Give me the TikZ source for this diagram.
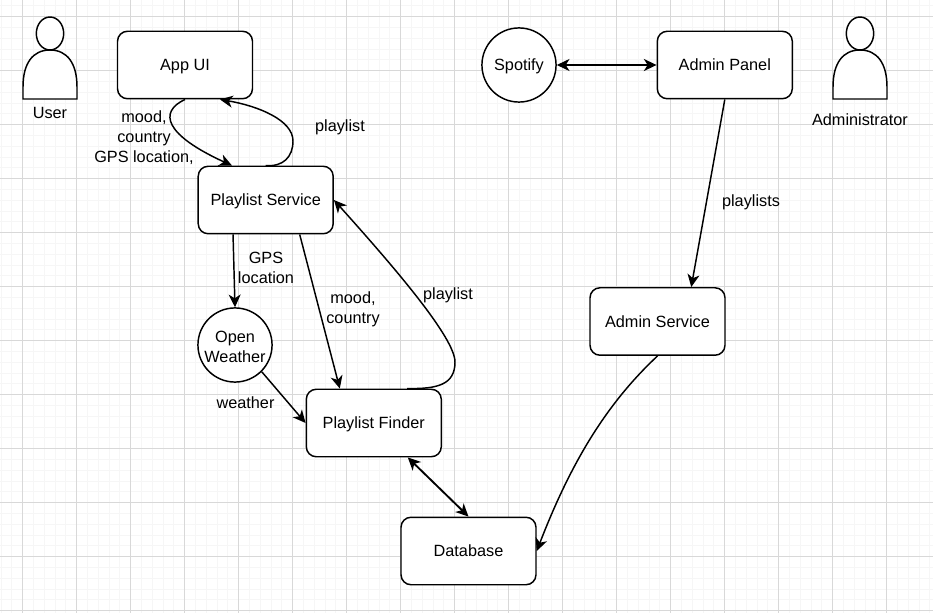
\documentclass[tikz,border=0pt]{standalone}
\usepackage{fontspec}
\setmainfont{Liberation Sans}
\usetikzlibrary{calc, positioning}
\usetikzlibrary{arrows.meta}
\def\mw{101.25pt}
\def\mh{50.6pt}
\def\cd{55.6pt}
\definecolor{gridmajor}{HTML}{D8D8D8}
\definecolor{gridminor}{HTML}{F6F6F6}
\tikzset{
    block/.style = {
        draw, rectangle, rounded corners=7.5pt, minimum width=\mw, minimum height=\mh, line width=1.1pt, fill=white, align=center, inner sep=0pt, text height=9pt, text depth=0.7pt
    },
    service/.style = {
        draw, circle, minimum width=\cd, line width=1.1pt, fill=white, align=center, inner sep=0pt
    },
    tag/.style = {
        align=center, inner sep=0pt
    },
    link/.style = {
        line width=1.1pt, ->
    },
    biglink/.style = {
        line width=1.4pt, <->
    },
    Actor/.pic = {
        \draw[line width=1.1pt, fill=white] (-27,82) -- (-27,70) .. controls (-27,46) and (-17,33) .. (0,33) .. controls (17,33) and (27,46) .. (27,70) -- (27,82) -- cycle;
        \draw[line width=1.1pt, fill=white] (0,16.5) ellipse [x radius=13.7, y radius=16.5];
    },
}

\begin{document}
\begin{tikzpicture}[x=0.75pt, y=-0.75pt, every node/.style={font=\fontsize{12.2}{15}\selectfont}, >={Stealth[length=9.5pt,width=9pt,inset=2.8pt]}]
        \useasboundingbox (0,0) rectangle (933,613);
        % Draw the grid
        \foreach \i in {0,...,86}{
            \draw[gridminor, line width=0.75pt] ({1.1+\i*10.8},0) -- ++(0,613);
        }
        \foreach \i in {0,...,56}{
            \draw[gridminor, line width=0.75pt] (0,{5.9+\i*10.8}) -- ++(933,0);
        }
        \foreach \i in {0,...,16}{
            \draw[gridmajor, line width=0.75pt] ({22.7+\i*54},0) -- ++(0,613);
        }
        \foreach \i in {0,...,11}{
            \draw[gridmajor, line width=0.75pt] (0,{16.7+\i*54}) -- ++(933,0);
        }

        % Place the blocks
        \node[block] (appui) at (185,65) {App UI};
        \node[block] (playlistservice) at (265.7,200) {Playlist Service};
        \node[block] (playlistfinder) at (373.8,423) {Playlist Finder};
        \node[block] (database) at (468.5,551) {Database};
        \node[block] (adminpanel) at (724.8,65) {Admin Panel};
        \node[block] (adminservice) at (657.5,321.5) {Admin Service};
        \node[service, text height=9pt, text depth=0.7pt] (spotify) at (519,65) {Spotify};
        \node[service] (openweather) at (235,345) {\rule{0pt}{11pt}Open\\Weather};

        % Place the actors
        \draw pic (user) at (50,17) {Actor};
        \draw pic (administrator) at (860,17) {Actor};
        \node[tag] (usertag) at (50,113) {User};
        \node[tag] (administratortag) at (860,120) {Administrator};

        % Draw connections
        \draw[link] (appui.south) .. controls (158,112) and (165,135) .. ([xshift=-25.3pt]playlistservice.north);
        \draw[link] (playlistservice.north) .. controls (283,167) and (293,157) .. (293,141) .. controls (293,120) and (258,106) .. ([xshift=26.25pt]appui.south);
        \draw[link] ([xshift=-24.5pt]playlistservice.south) -- (openweather.north);
        \draw[link] ([xshift=25.5pt]playlistservice.south) -- ([xshift=-25.5pt]playlistfinder.north);
        \draw[link] (openweather.south east) -- (playlistfinder.west);
        \draw[link] ([xshift=25pt]playlistfinder.north) .. controls (437,389) and (455,385) .. (455,362) .. controls (455,338) and (395,268) .. (playlistservice.east);
        \draw[biglink] ([xshift=25.5pt]playlistfinder.south) -- (database.north);
        \draw[biglink] (spotify.east) -- (adminpanel.west);
        \draw[link] (adminpanel.south) -- ([xshift=25.3pt]adminservice.north);
        \draw[link] (adminservice.south) .. controls (605,405) and (570,465) .. (database.east);

        % Connector labels
        \node[tag] (statetag) at (144,137.5) {mood,\\country\\GPS location,};
        \node[tag] (playlisttag) at (340,127) {playlist};
        \node[tag] (gpstag) at (266,268) {GPS\\location};
        \node[tag] (moodtag) at (353,309.5) {mood,\\country};
        \node[tag] (foundtag) at (448,295) {playlist};
        \node[tag] (weathertag) at (245.5,403) {weather};
        \node[tag] (playliststag) at (751,202) {playlists};
\end{tikzpicture}
\end{document}
